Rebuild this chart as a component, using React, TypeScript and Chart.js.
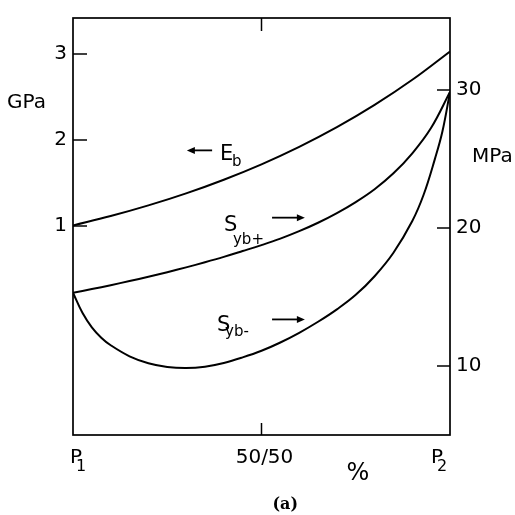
import React, { useEffect, useRef } from "react";
import { Chart, registerables } from "chart.js";

Chart.register(...registerables);

// ---- data ----
// x: composition in %, from P1 (0) to P2 (100)
const ebX = [0, 10, 20, 30, 40, 50, 60, 70, 80, 90, 100];
const ebY = [1.0, 1.11, 1.234, 1.374, 1.533, 1.712, 1.915, 2.144, 2.403, 2.695, 3.025]; // GPa

const sypX = [0, 5, 10, 15, 20, 25, 30, 35, 40, 45, 50, 55, 60, 65, 70, 75, 80, 85, 90, 95, 100];
const sypY = [15.3, 15.57, 15.85, 16.15, 16.46, 16.79, 17.14, 17.51, 17.9, 18.32, 18.75, 19.22, 19.76, 20.37, 21.07, 21.87, 22.8, 23.95, 25.4, 27.25, 29.85]; // MPa

const symX = [0, 2.5, 5, 7.5, 10, 15, 20, 25, 30, 35, 40, 45, 50, 55, 60, 65, 70, 75, 80, 85, 90, 93, 96, 98, 100];
const symY = [15.3, 13.85, 12.8, 12.05, 11.5, 10.7, 10.2, 9.93, 9.85, 9.95, 10.22, 10.62, 11.1, 11.7, 12.4, 13.2, 14.1, 15.15, 16.5, 18.2, 20.5, 22.4, 25.0, 27.0, 29.85]; // MPa

const gpaTicks = [1, 2, 3];
const mpaTicks = [10, 20, 30];
const xTickValues = [0, 50, 100];
const xTickMain = ["P", "50/50", "P"];
const xTickSub = ["1", "", "2"];

const FONT = '"DejaVu Sans", sans-serif';

function toPts(xs: number[], ys: number[]) {
  return xs.map((x, i) => ({ x, y: ys[i] }));
}

const decorPlugin = {
  id: "decor",
  afterDraw(chart: any) {
    const { ctx, chartArea: a, scales } = chart;
    const xs = scales.x;
    const yl = scales.y;
    const yr = scales.y1;
    ctx.save();
    ctx.strokeStyle = "#000";
    ctx.fillStyle = "#000";
    ctx.lineCap = "butt";

    const line = (x1: number, y1: number, x2: number, y2: number, w = 1.6) => {
      ctx.lineWidth = w;
      ctx.beginPath();
      ctx.moveTo(x1, y1);
      ctx.lineTo(x2, y2);
      ctx.stroke();
    };

    // frame
    ctx.lineWidth = 1.7;
    ctx.strokeRect(a.left, a.top, a.right - a.left, a.bottom - a.top);

    // inward ticks
    gpaTicks.forEach((v) => {
      const py = Math.round(yl.getPixelForValue(v));
      line(a.left, py, a.left + 14, py, 1.5);
    });
    mpaTicks.forEach((v) => {
      const py = Math.round(yr.getPixelForValue(v));
      line(a.right - 13, py, a.right, py, 1.5);
    });
    const pMid = xs.getPixelForValue(50);
    line(pMid, a.bottom, pMid, a.bottom - 12, 1.5);
    line(pMid, a.top, pMid, a.top + 13, 1.5);

    // x tick labels
    ctx.textBaseline = "alphabetic";
    xTickValues.forEach((v, i) => {
      const px = xs.getPixelForValue(v);
      const main = xTickMain[i];
      const sub = xTickSub[i];
      ctx.font = `20px ${FONT}`;
      if (sub) {
        const left = i === 0 ? px - 3 : px - 19;
        ctx.textAlign = "left";
        ctx.fillText(main, left, a.bottom + 28);
        ctx.font = `16px ${FONT}`;
        ctx.fillText(sub, left + 6, a.bottom + 36);
      } else {
        ctx.textAlign = "center";
        ctx.fillText(main, px + 3, a.bottom + 28);
      }
    });

    // "%" axis title
    ctx.textAlign = "center";
    ctx.font = `24px ${FONT}`;
    ctx.fillText("%", xs.getPixelForValue(75.6), a.bottom + 45);

    // unit labels
    ctx.textAlign = "left";
    ctx.font = `20px ${FONT}`;
    ctx.fillText("GPa", 7, yl.getPixelForValue(2.5) + 11);
    ctx.fillText("MPa", a.right + 22, yr.getPixelForValue(25.3) + 7);

    // caption
    ctx.textAlign = "center";
    ctx.font = `bold 16px "DejaVu Serif", serif`;
    ctx.fillText("(a)", xs.getPixelForValue(56.3), a.bottom + 74);

    // curve annotations
    const arrow = (xa: number, xb: number, y: number) => {
      const dir = xb > xa ? 1 : -1;
      const head = 8;
      line(xa, y, xb - dir * head * 0.6, y, 1.8);
      ctx.beginPath();
      ctx.moveTo(xb, y);
      ctx.lineTo(xb - dir * head, y - 3.5);
      ctx.lineTo(xb - dir * head, y + 3.5);
      ctx.closePath();
      ctx.fill();
    };

    const label = (main: string, sub: string, px: number, py: number, dx: number, dy: number) => {
      ctx.textAlign = "left";
      ctx.font = `21px ${FONT}`;
      ctx.fillText(main, px, py);
      ctx.font = `15px ${FONT}`;
      ctx.fillText(sub, px + dx, py + dy);
    };

    // E_b (left axis)
    label("E", "b", xs.getPixelForValue(39.0), yl.getPixelForValue(1.759), 12, 6);
    arrow(xs.getPixelForValue(36.9), xs.getPixelForValue(30.2), yl.getPixelForValue(1.874));

    // S_yb+ (right axis)
    label("S", "yb+", xs.getPixelForValue(40.05), yr.getPixelForValue(19.81), 9, 13);
    arrow(xs.getPixelForValue(52.8), xs.getPixelForValue(61.5), yr.getPixelForValue(20.74));

    // S_yb- (right axis)
    label("S", "yb-", xs.getPixelForValue(38.2), yr.getPixelForValue(12.51), 8, 5);
    arrow(xs.getPixelForValue(52.8), xs.getPixelForValue(61.5), yr.getPixelForValue(13.37));

    ctx.restore();
  },
};

export default function App() {
  const ref = useRef<HTMLCanvasElement | null>(null);

  useEffect(() => {
    if (!ref.current) return;
    const lineStyle = {
      borderColor: "#000",
      borderWidth: 2,
      pointRadius: 0,
      fill: false,
      tension: 0.4,
    };
    const chart = new Chart(ref.current, {
      type: "line",
      data: {
        datasets: [
          { label: "E_b", data: toPts(ebX, ebY), yAxisID: "y", ...lineStyle },
          { label: "S_yb+", data: toPts(sypX, sypY), yAxisID: "y1", ...lineStyle },
          { label: "S_yb-", data: toPts(symX, symY), yAxisID: "y1", ...lineStyle },
        ],
      },
      options: {
        animation: false,
        responsive: false,
        maintainAspectRatio: false,
        devicePixelRatio: 1,
        layout: { padding: { top: 13, bottom: 80, left: 0, right: 0 } },
        plugins: {
          legend: { display: false },
          tooltip: { enabled: false },
        },
        scales: {
          x: { type: "linear", min: 0, max: 100, display: false },
          y: {
            type: "linear",
            position: "left",
            min: -1.437,
            max: 3.414,
            grid: { display: false, drawTicks: false },
            border: { display: false },
            ticks: {
              color: "#000",
              font: { family: "DejaVu Sans", size: 20 },
              padding: 6,
            },
            afterBuildTicks: (s: any) => {
              s.ticks = gpaTicks.map((v) => ({ value: v }));
            },
            afterFit: (s: any) => {
              s.width = 73;
            },
          },
          y1: {
            type: "linear",
            position: "right",
            min: 5,
            max: 35.2,
            grid: { display: false, drawTicks: false },
            border: { display: false },
            ticks: {
              color: "#000",
              font: { family: "DejaVu Sans", size: 20 },
              padding: 6,
            },
            afterBuildTicks: (s: any) => {
              s.ticks = mpaTicks.map((v) => ({ value: v }));
            },
            afterFit: (s: any) => {
              s.width = 65;
            },
          },
        },
      },
      plugins: [decorPlugin],
    });
    return () => chart.destroy();
  }, []);

  return (
    <div style={{ position: "absolute", left: 0, top: 0, width: 515, height: 515, background: "#fff" }}>
      <canvas ref={ref} width={515} height={515} style={{ width: 515, height: 515, display: "block" }} />
    </div>
  );
}
